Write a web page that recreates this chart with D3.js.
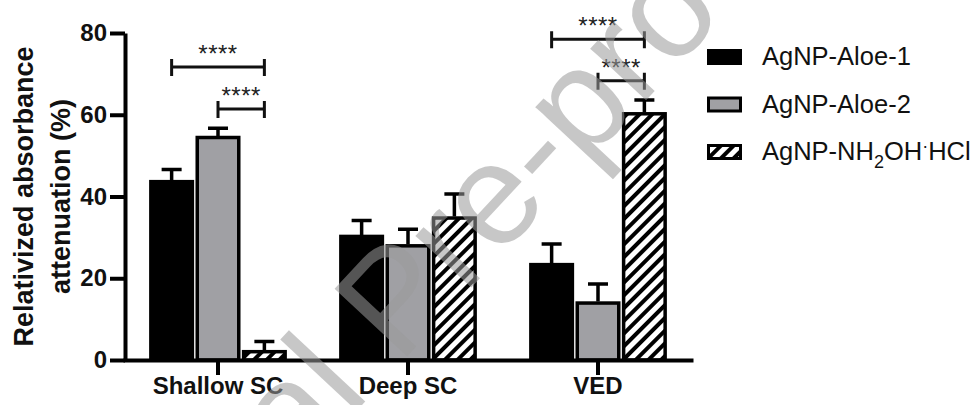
<!DOCTYPE html>
<html>
<head>
<meta charset="utf-8">
<script src="https://cdn.jsdelivr.net/npm/d3@7"></script>
<style>
  body { margin: 0; background: #fff; }
  text { font-family: "Liberation Sans", Arial, sans-serif; }
</style>
</head>
<body>
<div class="chart"></div>
<script>
// data
var categories = ["Shallow SC", "Deep SC", "VED"];
var seriesNames = ["AgNP-Aloe-1", "AgNP-Aloe-2", "AgNP-NH2OH·HCl"];
var aloe1 = [44.0, 30.6, 23.7];
var aloe1Err = [2.6, 3.5, 4.7];
var aloe2 = [54.8, 28.3, 14.3];
var aloe2Err = [1.9, 3.7, 4.3];
var nh2oh = [2.4, 35.1, 60.6];
var nh2ohErr = [2.1, 5.5, 3.0];
var yTicks = [0, 20, 40, 60, 80];
// significance brackets: category, from series, to series, height (%)
var comparisons = [
  {cat: "Shallow SC", from: 0, to: 2, y: 71.7, label: "****"},
  {cat: "Shallow SC", from: 1, to: 2, y: 61.4, label: "****"},
  {cat: "VED", from: 0, to: 2, y: 78.5, label: "****"},
  {cat: "VED", from: 1, to: 2, y: 68.3, label: "****"}
];

var values = [aloe1, aloe2, nh2oh];
var errors = [aloe1Err, aloe2Err, nh2ohErr];
var fills = ["#000", "#a0a0a4", "url(#hatch)"];

var width = 975, height = 405;

var svg = d3.select(".chart").append("svg")
    .attr("width", width)
    .attr("height", height);

svg.append("rect").attr("width", width).attr("height", height).attr("fill", "#fff");

// diagonal hatch
var pat = svg.append("defs").append("pattern")
    .attr("id", "hatch")
    .attr("patternUnits", "userSpaceOnUse")
    .attr("width", 9).attr("height", 9)
    .attr("patternTransform", "rotate(45)");
pat.append("rect").attr("width", 9).attr("height", 9).attr("fill", "#fff");
pat.append("rect").attr("width", 4).attr("height", 9).attr("fill", "#000");

var x0 = d3.scaleBand()
    .domain(categories)
    .range([123, 693])
    .paddingInner(0.258)
    .paddingOuter(0.129);

var x1 = d3.scaleBand()
    .domain(d3.range(seriesNames.length))
    .range([0, x0.bandwidth()])
    .padding(0.04);

var y = d3.scaleLinear()
    .domain([0, 80])
    .range([360, 33]);

// bars
var rows = [];
categories.forEach(function(c, i) {
  values.forEach(function(v, s) {
    rows.push({cat: c, s: s, v: v[i], e: errors[s][i]});
  });
});

var bars = svg.append("g");

// error bars (upper only)
bars.selectAll(".err")
    .data(rows)
  .enter().append("path")
    .attr("class", "err")
    .attr("fill", "none")
    .attr("stroke", "#000")
    .attr("stroke-width", 3.5)
    .attr("d", function(d) {
      var cx = x0(d.cat) + x1(d.s) + x1.bandwidth() / 2;
      return "M" + cx + "," + y(d.v) + "V" + y(d.v + d.e) +
             "M" + (cx - 10) + "," + y(d.v + d.e) + "H" + (cx + 10);
    });

bars.selectAll(".bar")
    .data(rows)
  .enter().append("rect")
    .attr("class", "bar")
    .attr("x", function(d) { return x0(d.cat) + x1(d.s) + 1.5; })
    .attr("width", x1.bandwidth() - 3)
    .attr("y", function(d) { return y(d.v) + 1.5; })
    .attr("height", function(d) { return Math.max(0, y(0) - y(d.v) - 1.5); })
    .attr("fill", function(d) { return fills[d.s]; })
    .attr("stroke", "#000")
    .attr("stroke-width", 3.5);

// axes
var yAxis = svg.append("g")
    .attr("transform", "translate(125,0)")
    .call(d3.axisLeft(y).tickValues(yTicks).tickSize(15).tickSizeOuter(0).tickPadding(3));

var xAxis = svg.append("g")
    .attr("transform", "translate(0," + y(0) + ")")
    .call(d3.axisBottom(x0).tickSize(15).tickSizeOuter(0).tickPadding(2));

[yAxis, xAxis].forEach(function(a) {
  a.select(".domain").attr("stroke", "#000").attr("stroke-width", 4);
  a.selectAll(".tick line").attr("stroke", "#000").attr("stroke-width", 4);
  a.selectAll(".tick text")
    .attr("fill", "#111")
    .style("font-size", "24px")
    .style("font-weight", "bold")
    .style("font-family", "'Liberation Sans', Arial, sans-serif");
});

// y title
var yTitle = svg.append("text")
    .attr("transform", "translate(33," + ((y(0) + y(80)) / 2) + ") rotate(-90)")
    .attr("text-anchor", "middle")
    .attr("fill", "#111")
    .style("font-size", "27px")
    .style("font-weight", "bold");
yTitle.append("tspan").attr("x", 0).attr("y", 0).text("Relativized absorbance");
yTitle.append("tspan").attr("x", 0).attr("y", 37).text("attenuation (%)");

// significance brackets
var sig = svg.append("g");
comparisons.forEach(function(c) {
  var xa = x0(c.cat) + x1(c.from) + x1.bandwidth() / 2;
  var xb = x0(c.cat) + x1(c.to) + x1.bandwidth() / 2;
  var yy = y(c.y);
  sig.append("path")
    .attr("fill", "none")
    .attr("stroke", "#111")
    .attr("stroke-width", 3)
    .attr("d", "M" + xa + "," + (yy - 8) + "V" + (yy + 9) +
               "M" + xa + "," + yy + "H" + xb +
               "M" + xb + "," + (yy - 8) + "V" + (yy + 9));
  sig.append("text")
    .attr("x", (xa + xb) / 2)
    .attr("y", yy - 5)
    .attr("text-anchor", "middle")
    .attr("fill", "#222")
    .style("font-size", "24px")
    .style("letter-spacing", "0.5px")
    .text(c.label);
});

// legend
var legend = svg.append("g").attr("transform", "translate(707,49)");
seriesNames.forEach(function(name, i) {
  var row = legend.append("g").attr("transform", "translate(0," + (i * 47.5) + ")");
  row.append("rect")
    .attr("x", 1.5).attr("y", 1.5)
    .attr("width", 32).attr("height", 13)
    .attr("fill", fills[i])
    .attr("stroke", "#000")
    .attr("stroke-width", 3);
  var t = row.append("text")
    .attr("x", 55)
    .attr("y", 16)
    .attr("fill", "#111")
    .style("font-size", "25.5px");
  if (i === 2) {
    t.append("tspan").text("AgNP-NH");
    t.append("tspan").attr("dy", 8).style("font-size", "18px").text("2");
    t.append("tspan").attr("dy", -8).text("OH");
    t.append("tspan").attr("dy", -8).style("font-size", "18px").text("·");
    t.append("tspan").attr("dy", 8).text("HCl");
  } else {
    t.text(name);
  }
});

// journal watermark over the figure
var wm = svg.append("g")
    .attr("transform", "translate(399,365) rotate(-47)")
    .attr("fill", "#9b9b9b")
    .attr("opacity", 0.55)
    .style("font-size", "144px");
wm.append("text").attr("x", -40).attr("text-anchor", "end").text("Journal");
wm.append("text").attr("x", 0).text("Pre-proof");
</script>
</body>
</html>
